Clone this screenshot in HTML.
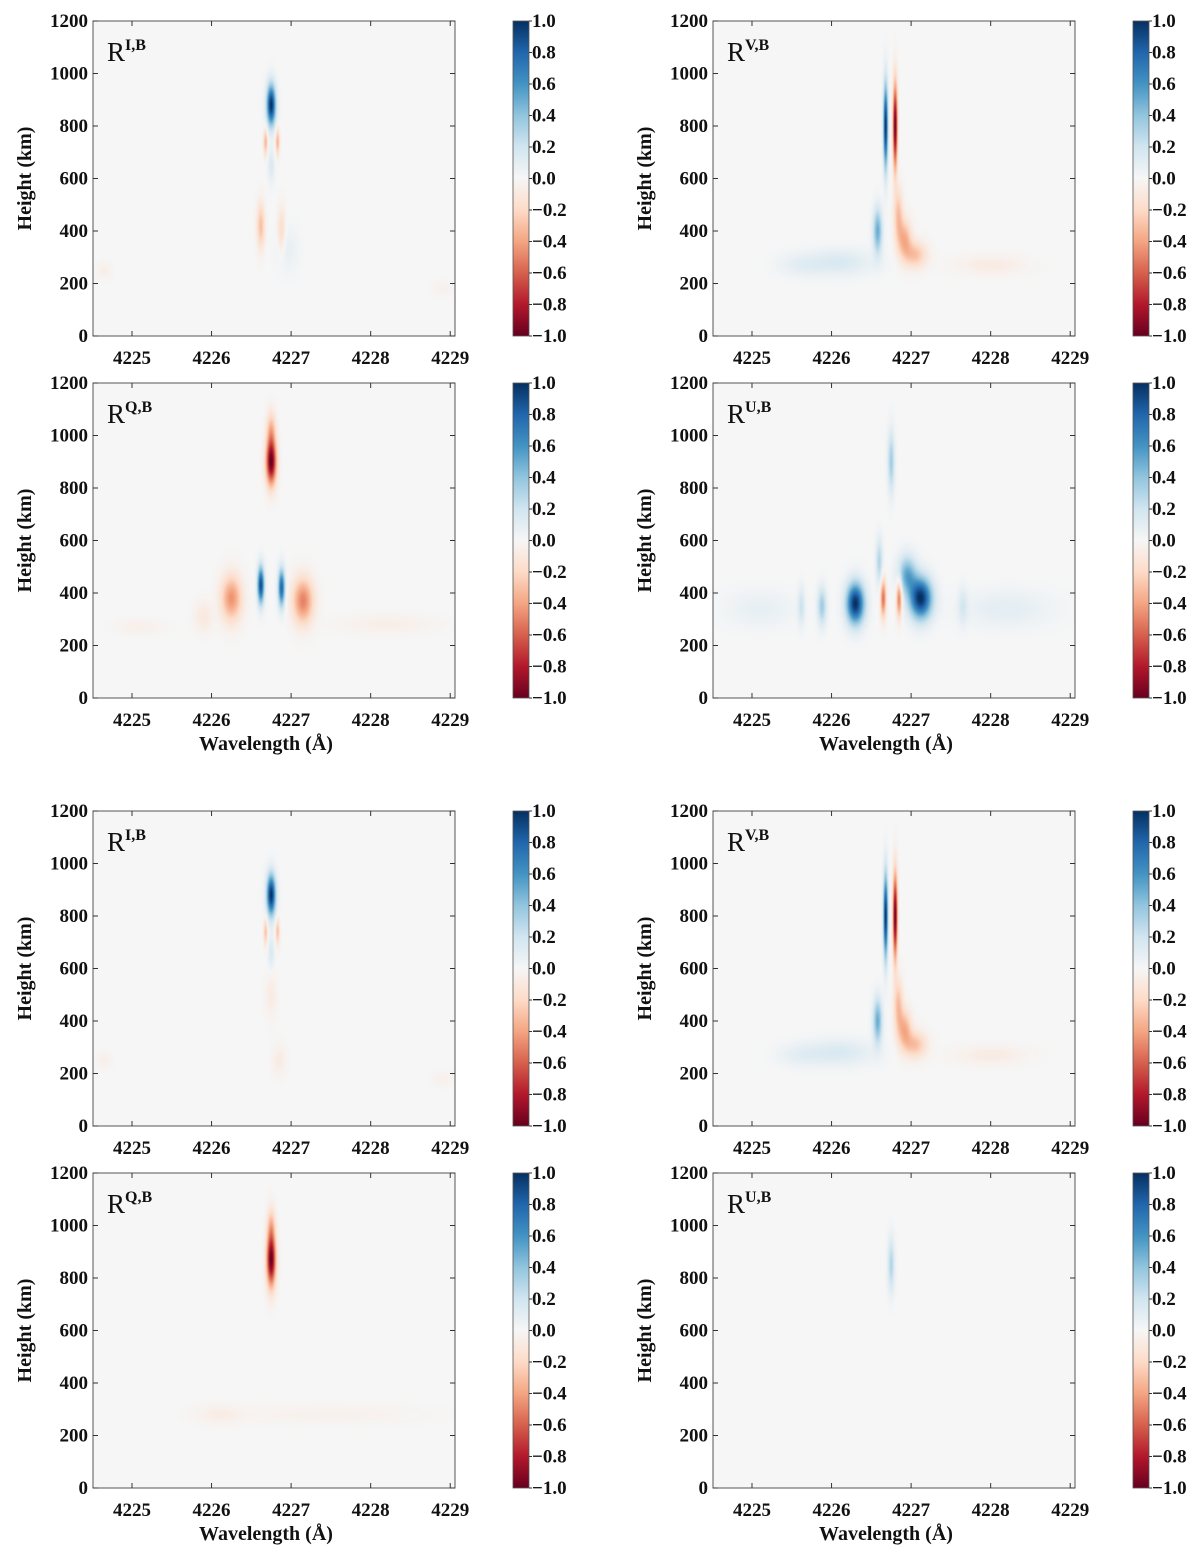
<!DOCTYPE html>
<html><head><meta charset="utf-8"><style>
body{margin:0;background:#fff;}
#fig{position:relative;width:1200px;height:1556px;}
canvas{position:absolute;}
svg{position:absolute;left:0;top:0;}
text{font-family:"Liberation Serif",serif;font-weight:bold;fill:#111;}
</style></head><body>
<div id="fig">
<svg id="svg" width="1200" height="1556"></svg>
</div>
<script>
// data: blob components [wavelength, height, sigmaWl, sigmaH, amplitude]
const xTicks=[4225,4226,4227,4228,4229];
const yTicks=[0,200,400,600,800,1000,1200];
const cbTicks=[1.0,0.8,0.6,0.4,0.2,0.0,-0.2,-0.4,-0.6,-0.8,-1.0];
const titlesSup=["I,B","V,B","Q,B","U,B","I,B","V,B","Q,B","U,B"];
const blobsI1=[[4226.75,880,0.04,55,1.0],[4226.68,740,0.018,35,-0.35],[4226.83,740,0.018,35,-0.35],[4226.75,650,0.03,45,0.15],[4226.62,420,0.035,60,-0.3],[4226.88,400,0.035,60,-0.2],[4226.95,330,0.1,60,0.08],[4224.65,250,0.06,20,-0.06],[4228.9,180,0.08,18,-0.05]];
const blobsV1=[[4226.68,800,0.02,110,1.0],[4226.8,800,0.02,110,-1.0],[4226.58,400,0.04,60,0.5],[4226.84,460,0.04,70,-0.3],[4226.92,370,0.06,50,-0.35],[4227.05,310,0.1,35,-0.3],[4226.1,280,0.3,35,0.15],[4225.6,270,0.2,30,0.08],[4228.0,270,0.3,25,-0.08]];
const blobsQ1=[[4226.75,900,0.045,60,-1.0],[4226.75,1020,0.04,50,-0.3],[4226.62,430,0.03,50,0.9],[4226.88,420,0.03,50,0.8],[4226.25,380,0.09,60,-0.45],[4227.15,370,0.09,60,-0.5],[4225.9,310,0.08,40,-0.1],[4228.2,280,0.4,25,-0.06],[4225.1,270,0.2,20,-0.05]];
const blobsU1=[[4226.3,360,0.08,55,1.0],[4227.12,380,0.1,55,1.0],[4226.95,470,0.08,50,0.5],[4226.65,380,0.025,50,-0.55],[4226.85,380,0.025,50,-0.55],[4226.75,900,0.03,80,0.35],[4226.6,520,0.03,60,0.3],[4225.88,350,0.04,50,0.35],[4225.62,350,0.03,50,0.2],[4227.65,350,0.04,50,0.15],[4228.2,340,0.4,50,0.1],[4225.1,340,0.3,50,0.08]];
const blobsI2=[[4226.75,880,0.04,55,1.0],[4226.68,740,0.018,35,-0.3],[4226.83,740,0.018,35,-0.3],[4226.75,660,0.03,45,0.15],[4226.75,500,0.05,60,-0.08],[4226.85,250,0.06,40,-0.08],[4224.65,250,0.06,20,-0.06],[4228.9,180,0.08,18,-0.05]];
const blobsV2=[[4226.68,800,0.02,110,1.0],[4226.8,800,0.02,110,-1.0],[4226.58,400,0.04,60,0.5],[4226.84,460,0.04,70,-0.3],[4226.92,370,0.06,50,-0.35],[4227.05,310,0.1,35,-0.3],[4226.1,280,0.3,35,0.15],[4225.6,270,0.2,30,0.08],[4228.0,270,0.3,25,-0.08]];
const blobsQ2=[[4226.75,870,0.04,70,-1.0],[4226.75,1000,0.035,50,-0.25],[4226.1,280,0.2,25,-0.06],[4227.5,280,0.8,25,-0.04]];
const blobsU2=[[4226.75,850,0.03,70,0.3]];
const panelBlobs=[blobsI1,blobsV1,blobsQ1,blobsU1,blobsI2,blobsV2,blobsQ2,blobsU2];

const X0=4224.51,X1=4229.06,Y0=0,Y1=1200;
const colsL=[93,713], colsW=362, cbX=[513,1133], cbW=16;
const rowsT=[21,383,811,1173], rowH=315;
const cmapStops=[[-1,[103,0,31]],[-0.8,[178,24,43]],[-0.6,[214,96,77]],[-0.4,[244,165,130]],[-0.2,[253,219,199]],[0,[246,246,246]],[0.2,[209,229,240]],[0.4,[146,197,222]],[0.6,[67,147,195]],[0.8,[33,102,172]],[1,[5,48,97]]];
function cmap(v){v=Math.max(-1,Math.min(1,v));for(let i=0;i<cmapStops.length-1;i++){const a=cmapStops[i],b=cmapStops[i+1];if(v<=b[0]){const t=(v-a[0])/(b[0]-a[0]);return a[1].map((c,k)=>Math.round(c+(b[1][k]-c)*t));}}return cmapStops[10][1];}
const NS="http://www.w3.org/2000/svg";
const svg=document.getElementById('svg'),fig=document.getElementById('fig');
function el(tag,attrs,parent,txt){const e=document.createElementNS(NS,tag);for(const k in attrs)e.setAttribute(k,attrs[k]);if(txt!==undefined)e.textContent=txt;(parent||svg).appendChild(e);return e;}

for(let p=0;p<8;p++){
  const col=p%2,row=Math.floor(p/2);
  const L=colsL[col],T=rowsT[row],W=colsW,H=rowH;
  const sx=v=>L+(v-X0)/(X1-X0)*W, sy=v=>T+H-(v-Y0)/(Y1-Y0)*H;
  const cv=document.createElement('canvas');cv.width=W;cv.height=H;cv.style.left=L+'px';cv.style.top=T+'px';
  
  
  fig.insertBefore(cv,svg);
  const ctx=cv.getContext('2d'),img=ctx.createImageData(W,H);
  const blobs=panelBlobs[p];
  for(let j=0;j<H;j++){const h=Y1-(j+0.5)/H*(Y1-Y0);
    for(let i=0;i<W;i++){const w=X0+(i+0.5)/W*(X1-X0);let v=0;
      for(const b of blobs){const dx=(w-b[0])/b[2],dy=(h-b[1])/b[3];v+=b[4]*Math.exp(-0.5*(dx*dx+dy*dy));}
      const c=cmap(v),o=(j*W+i)*4;img.data[o]=c[0];img.data[o+1]=c[1];img.data[o+2]=c[2];img.data[o+3]=255;}}
  ctx.putImageData(img,0,0);
  const g=el('g',{});
  el('rect',{x:L,y:T,width:W,height:H,fill:'none',stroke:'#555','stroke-width':1},g);
  for(const t of xTicks){const x=sx(t);el('line',{x1:x,x2:x,y1:T+H,y2:T+H-5,stroke:'#333'},g);el('line',{x1:x,x2:x,y1:T,y2:T+5,stroke:'#333'},g);
    const tl=el('text',{x:x,y:T+H+28,'text-anchor':'middle','font-size':19},g,String(t));}
  for(const t of yTicks){const y=sy(t);el('line',{x1:L,x2:L+5,y1:y,y2:y,stroke:'#333'},g);el('line',{x1:L+W,x2:L+W-5,y1:y,y2:y,stroke:'#333'},g);
    const tl=el('text',{x:L-5,y:y+6,'text-anchor':'end','font-size':19},g,String(t));}
  const yl=el('text',{x:0,y:0,transform:`translate(${L-62},${T+H/2}) rotate(-90)`,'text-anchor':'middle','font-size':20},g,'Height (km)');
  
  if(row%2===1){const xl=el('text',{x:L+W/2-8,y:T+H+52,'text-anchor':'middle','font-size':20},g,'Wavelength (Å)');}
  const tt=el('text',{x:L+14,y:T+40,'font-size':27,'font-weight':'normal'},g);
  el('tspan',{'font-weight':'normal'},tt,'R');el('tspan',{'font-size':16,dy:-11},tt,titlesSup[p]);
  const cx=cbX[col];const defs=el('defs',{},g);const gid='cbg'+p;
  const lg=el('linearGradient',{id:gid,x1:0,y1:1,x2:0,y2:0},defs);
  for(const s of cmapStops){el('stop',{offset:(s[0]+1)/2,'stop-color':`rgb(${s[1].join(',')})`},lg);}
  const cb=el('rect',{x:cx,y:T,width:cbW,height:H,fill:`url(#${gid})`,stroke:'#555','stroke-width':0.8},g);
  
  for(const t of cbTicks){const y=T+H-(t+1)/2*H;el('line',{x1:cx+cbW,x2:cx+cbW+3,y1:y,y2:y,stroke:'#333'},g);
    const tl=el('text',{x:cx+cbW+3,y:y+6,'font-size':19},g,(t<0?'\u2212':'')+Math.abs(t).toFixed(1));}
}
</script>
</body></html>
